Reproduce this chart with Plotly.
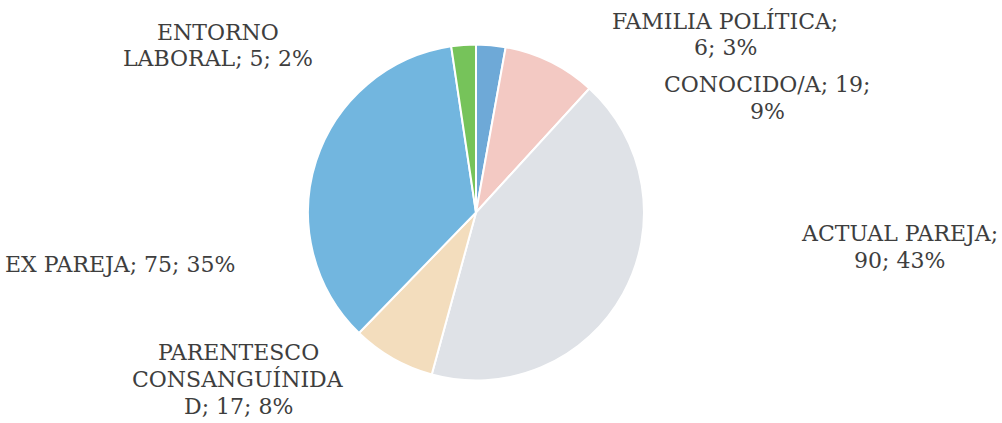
import plotly.graph_objects as go

# ---- data ----
categories = ["FAMILIA POLÍTICA", "CONOCIDO/A", "ACTUAL PAREJA",
              "PARENTESCO CONSANGUÍNIDAD", "EX PAREJA", "ENTORNO LABORAL"]
values = [6, 19, 90, 17, 75, 5]
percents = [3, 9, 43, 8, 35, 2]

# ---- style ----
colors = ["#6ea9d7", "#f3c9c3", "#dfe2e7", "#f3ddbd", "#72b6df", "#76c35a"]

W, H = 1002, 423
FONT = "DejaVu Serif"
FS = 22
TXT = "#3e3e3e"
LINE = 27

def label_text(i):
    return f"{categories[i]}; {values[i]}; {percents[i]}%"

# how each data label wraps (character cut points) and its centre position (px)
wraps = [
    [17, None],        # FAMILIA POLÍTICA; | 6; 3%
    [15, None],        # CONOCIDO/A; 19; | 9%
    [14, None],        # ACTUAL PAREJA; | 90; 43%
    [10, 24, None],    # PARENTESCO | CONSANGUÍNIDA | D; 17; 8%
    [None],            # EX PAREJA; 75; 35%
    [7, None],         # ENTORNO | LABORAL; 5; 2%
]
centres = [(725, 21), (767, 85), (899, 233), (238, 352), (120, 264), (218, 32)]

fig = go.Figure()
fig.add_trace(go.Pie(
    labels=categories, values=values, sort=False, direction="clockwise",
    rotation=0, textinfo="none", hoverinfo="label+value+percent",
    marker=dict(colors=colors, line=dict(color="white", width=2)),
    domain=dict(x=[308 / W, 644 / W], y=[1 - 380.5 / H, 1 - 44.5 / H]),
    showlegend=False,
))

annotations = []
for i in range(len(categories)):
    t = label_text(i)
    lines = []
    start = 0
    for cut in wraps[i]:
        seg = t[start:cut] if cut is not None else t[start:]
        lines.append(seg.strip())
        if cut is None:
            break
        start = cut
    cx, cy = centres[i]
    for k, ln in enumerate(lines):
        annotations.append(dict(
            x=cx / W, y=1 - (cy + k * LINE) / H, xref="paper", yref="paper",
            text=ln, showarrow=False, xanchor="center", yanchor="middle",
            font=dict(family=FONT, size=FS, color=TXT)))

fig.update_layout(
    width=W, height=H, margin=dict(l=0, r=0, t=0, b=0),
    paper_bgcolor="white", plot_bgcolor="white",
    annotations=annotations,
)
fig.write_html(
    "out.html",
    config={"displayModeBar": False},
    post_script="document.body.style.margin='0';document.body.style.overflow='hidden';",
)
